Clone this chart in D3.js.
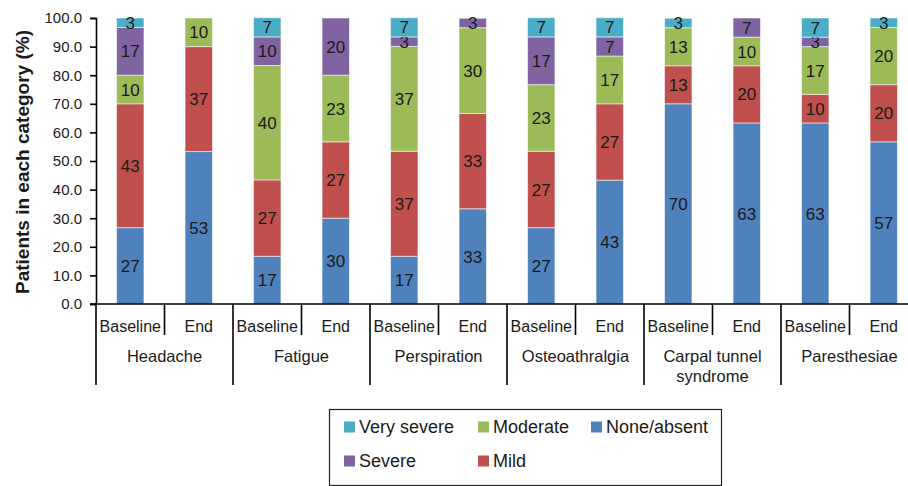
<!DOCTYPE html>
<html>
<head>
<meta charset="utf-8">
<script src="https://cdn.jsdelivr.net/npm/d3@7"></script>
<style>
  body { margin: 0; background: #fff; }
  text { font-family: "Liberation Sans", Arial, sans-serif; }
</style>
</head>
<body>
<svg id="chart" width="908" height="486"></svg>
<script>
const categories = ["Headache", "Fatigue", "Perspiration", "Osteoathralgia", "Carpal tunnel syndrome", "Paresthesiae"];
const periods = ["Baseline", "End"];

// percent of patients, bottom to top of each bar (Baseline, End for each category)
const noneAbsent = [26.7, 53.3, 16.7, 30.0, 16.7, 33.3, 26.7, 43.3, 70.0, 63.3, 63.3, 56.7];
const mild       = [43.3, 36.7, 26.7, 26.7, 36.7, 33.3, 26.7, 26.7, 13.3, 20.0, 10.0, 20.0];
const moderate   = [10.0, 10.0, 40.0, 23.3, 36.7, 30.0, 23.3, 16.7, 13.3, 10.0, 16.7, 20.0];
const severe     = [16.7, 0,    10.0, 20.0, 3.3,  3.3,  16.7, 6.7,  0,    6.7,  3.3,  0];
const verySevere = [3.3,  0,    6.7,  0,    6.7,  0,    6.7,  6.7,  3.3,  0,    6.7,  3.3];

const yTicks = [0, 10, 20, 30, 40, 50, 60, 70, 80, 90, 100];

const seriesKeys = ["None/absent", "Mild", "Moderate", "Severe", "Very severe"];
const seriesValues = [noneAbsent, mild, moderate, severe, verySevere];
const colors = {
  "None/absent": "#4f81bd",
  "Mild": "#c0504d",
  "Moderate": "#9bbb59",
  "Severe": "#8064a2",
  "Very severe": "#4bacc6"
};

const rows = [];
categories.forEach((c, ci) => {
  periods.forEach((p, pi) => {
    const i = ci * 2 + pi;
    const row = { key: c + "|" + p, category: c, period: p };
    seriesKeys.forEach((k, si) => { row[k] = seriesValues[si][i]; });
    rows.push(row);
  });
});

const svg = d3.select("#chart");
const plotLeft = 96, plotRight = 918, plotTop = 18, plotBottom = 304;

const x = d3.scaleBand()
  .domain(rows.map(d => d.key))
  .range([plotLeft, plotRight])
  .paddingInner(0.6)
  .paddingOuter(0.3);
const xCat = d3.scaleBand().domain(categories).range([plotLeft, plotRight]);
const y = d3.scaleLinear().domain([0, 100]).range([plotBottom, plotTop]);

const stacked = d3.stack().keys(seriesKeys)(rows);

const layers = svg.append("g")
  .selectAll("g")
  .data(stacked)
  .join("g")
  .attr("fill", d => colors[d.key]);

layers.selectAll("rect")
  .data(d => d.filter(s => s[1] - s[0] > 0))
  .join("rect")
  .attr("x", d => x(d.data.key))
  .attr("width", x.bandwidth())
  .attr("y", d => y(d[1]))
  .attr("height", d => y(d[0]) - y(d[1]))
  .attr("stroke", "rgba(255,255,255,0.55)")
  .attr("stroke-width", 1);

layers.selectAll("text")
  .data(d => d.filter(s => s[1] - s[0] > 0))
  .join("text")
  .attr("x", d => x(d.data.key) + x.bandwidth() / 2)
  .attr("y", d => y((d[0] + d[1]) / 2))
  .attr("dy", "0.36em")
  .attr("text-anchor", "middle")
  .attr("font-size", 17)
  .attr("fill", "#1a1a1a")
  .text(d => d3.format(".0f")(d[1] - d[0]));

// y axis
const yAxis = svg.append("g")
  .attr("transform", `translate(${plotLeft},0)`)
  .call(d3.axisLeft(y).tickValues(yTicks).tickFormat(d3.format(".1f")).tickSize(6).tickPadding(8));
yAxis.select(".domain").attr("stroke", "#000").attr("stroke-width", 1.6);
yAxis.selectAll(".tick line").attr("stroke", "#000").attr("stroke-width", 1.6);
yAxis.selectAll(".tick text").attr("font-size", 15).attr("fill", "#1a1a1a")
  .attr("font-family", "Liberation Sans, Arial, sans-serif");

svg.append("text")
  .attr("transform", "translate(29,162) rotate(-90)")
  .attr("text-anchor", "middle")
  .attr("font-size", 19)
  .attr("font-weight", "bold")
  .attr("fill", "#1a1a1a")
  .text("Patients in each category (%)");

// x axis: baseline line, period labels, category labels
const xg = svg.append("g").attr("stroke", "#000").attr("stroke-width", 1.6);
xg.append("line").attr("x1", plotLeft - 6).attr("x2", plotRight).attr("y1", plotBottom).attr("y2", plotBottom);

const halfGap = x.step() * x.paddingInner() / 2;
xg.selectAll(".sep-short")
  .data(rows.filter(d => d.period === "End"))
  .join("line")
  .attr("x1", d => x(d.key) - halfGap)
  .attr("x2", d => x(d.key) - halfGap)
  .attr("y1", plotBottom)
  .attr("y2", 335);

xg.selectAll(".sep-long")
  .data(categories)
  .join("line")
  .attr("x1", d => xCat(d))
  .attr("x2", d => xCat(d))
  .attr("y1", plotBottom)
  .attr("y2", 385);

svg.append("g")
  .selectAll("text")
  .data(rows)
  .join("text")
  .attr("x", d => x(d.key) + x.bandwidth() / 2)
  .attr("y", 326)
  .attr("dy", "0.36em")
  .attr("text-anchor", "middle")
  .attr("font-size", 16)
  .attr("fill", "#1a1a1a")
  .text(d => d.period);

function wrap(text, width) {
  text.each(function () {
    const t = d3.select(this);
    const words = t.text().split(/\s+/);
    const xPos = t.attr("x");
    t.text(null);
    let line = [];
    let tspan = t.append("tspan").attr("x", xPos).attr("dy", "0.36em");
    words.forEach(w => {
      line.push(w);
      tspan.text(line.join(" "));
      if (tspan.node().getComputedTextLength() > width && line.length > 1) {
        line.pop();
        tspan.text(line.join(" "));
        line = [w];
        tspan = t.append("tspan").attr("x", xPos).attr("dy", "1.2em").text(w);
      }
    });
  });
}

svg.append("g")
  .selectAll("text")
  .data(categories)
  .join("text")
  .attr("x", d => xCat(d) + xCat.bandwidth() / 2)
  .attr("y", 356)
  .attr("text-anchor", "middle")
  .attr("font-size", 16.5)
  .attr("fill", "#1a1a1a")
  .text(d => d)
  .call(wrap, 125);

// legend
const legendItems = [
  { key: "Very severe", col: 0, row: 0 },
  { key: "Moderate", col: 1, row: 0 },
  { key: "None/absent", col: 2, row: 0 },
  { key: "Severe", col: 0, row: 1 },
  { key: "Mild", col: 1, row: 1 }
];
const legend = svg.append("g");
legend.append("rect")
  .attr("x", 329.5).attr("y", 409.5)
  .attr("width", 392).attr("height", 76)
  .attr("fill", "none").attr("stroke", "#222").attr("stroke-width", 1.2);

const colX = [344, 478, 591];
const rowY = [427, 461];
const li = legend.selectAll("g")
  .data(legendItems)
  .join("g")
  .attr("transform", d => `translate(${colX[d.col]},${rowY[d.row]})`);
li.append("rect")
  .attr("x", 0).attr("y", -5.5)
  .attr("width", 11).attr("height", 11)
  .attr("fill", d => colors[d.key]);
li.append("text")
  .attr("x", 15)
  .attr("dy", "0.36em")
  .attr("font-size", 18)
  .attr("fill", "#1a1a1a")
  .text(d => d.key);
</script>
</body>
</html>
